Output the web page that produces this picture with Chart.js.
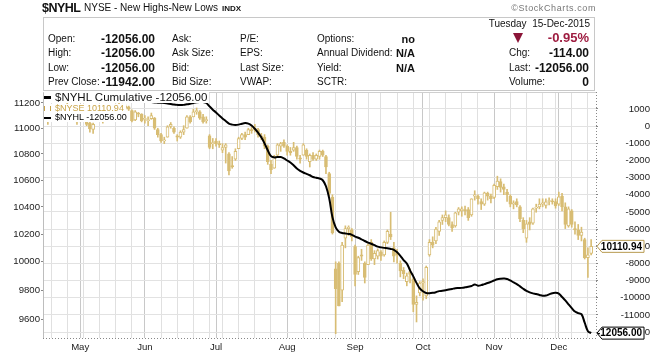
<!DOCTYPE html>
<html><head><meta charset="utf-8">
<script src="https://cdn.jsdelivr.net/npm/chart.js@4/dist/chart.umd.min.js"></script>
<style>
html,body{margin:0;padding:0;background:#fff;}
#wrap{position:relative;width:650px;height:354px;overflow:hidden;font-family:"Liberation Sans",Arial,sans-serif;color:#111;}
canvas{position:absolute;left:0;top:0;}
.t{position:absolute;white-space:nowrap;line-height:12px;}
.b{font-weight:bold;}
.l10{font-size:10px;}
.v12{font-size:12px;font-weight:bold;}
.ic{display:inline-block;vertical-align:middle;}
</style></head><body>
<div id="wrap">
<canvas id="c" width="650" height="354"></canvas>

<div class="t b" style="left:42px;top:1px;font-size:12.5px;line-height:14px;letter-spacing:-0.5px">$NYHL</div>
<div class="t" style="left:84px;top:2px;font-size:10px">NYSE - New Highs-New Lows</div>
<div class="t b" style="left:222px;top:3px;font-size:8px">INDX</div>
<div class="t" style="right:54px;top:2px;font-size:9px;color:#777;letter-spacing:0.6px">©StockCharts.com</div>
<div style="position:absolute;left:43px;top:17px;width:550px;height:72px;border:1px solid #c8c8c8;"></div>

<div class="t l10" style="left:48px;top:33px">Open:</div>
<div class="t l10" style="left:48px;top:47px">High:</div>
<div class="t l10" style="left:48px;top:62px">Low:</div>
<div class="t l10" style="left:48px;top:76px">Prev Close:</div>
<div class="t v12" style="right:495px;top:33px">-12056.00</div>
<div class="t v12" style="right:495px;top:47px">-12056.00</div>
<div class="t v12" style="right:495px;top:62px">-12056.00</div>
<div class="t v12" style="right:495px;top:76px">-11942.00</div>

<div class="t l10" style="left:172px;top:33px">Ask:</div>
<div class="t l10" style="left:172px;top:47px">Ask Size:</div>
<div class="t l10" style="left:172px;top:62px">Bid:</div>
<div class="t l10" style="left:172px;top:76px">Bid Size:</div>

<div class="t l10" style="left:240px;top:33px">P/E:</div>
<div class="t l10" style="left:240px;top:47px">EPS:</div>
<div class="t l10" style="left:240px;top:62px">Last Size:</div>
<div class="t l10" style="left:240px;top:76px">VWAP:</div>

<div class="t l10" style="left:317px;top:33px">Options:</div>
<div class="t l10" style="left:317px;top:47px">Annual Dividend:</div>
<div class="t l10" style="left:317px;top:62px">Yield:</div>
<div class="t l10" style="left:317px;top:76px">SCTR:</div>
<div class="t b" style="right:235px;top:33px;font-size:11px">no</div>
<div class="t b" style="right:235px;top:47px;font-size:11px">N/A</div>
<div class="t b" style="right:235px;top:62px;font-size:11px">N/A</div>

<div class="t l10" style="right:60px;top:18px">Tuesday&nbsp;&nbsp;15-Dec-2015</div>
<div style="position:absolute;left:513px;top:33px;width:0;height:0;border-left:5px solid transparent;border-right:5px solid transparent;border-top:10px solid #8b1538;"></div>
<div class="t b" style="right:61px;top:31px;font-size:13px;line-height:14px;color:#9e1c40">-0.95%</div>
<div class="t l10" style="left:509px;top:47px">Chg:</div>
<div class="t v12" style="right:61px;top:47px">-114.00</div>
<div class="t l10" style="left:509px;top:62px">Last:</div>
<div class="t v12" style="right:61px;top:62px">-12056.00</div>
<div class="t l10" style="left:509px;top:76px">Volume:</div>
<div class="t v12" style="right:61px;top:76px">0</div>

<div class="t" style="left:44px;top:91px;font-size:11.5px;line-height:12px;background:#fff;padding-right:2px"><span class="ic" style="width:7px;height:3px;background:#000;margin-right:4px"></span>$NYHL Cumulative -12056.00</div>
<div class="t" style="left:44px;top:104px;font-size:9px;line-height:9px;color:#c9a448;background:#fff;padding-right:2px"><span class="ic" style="width:5px;height:5px;border-left:1px solid #c9a448;border-right:1px solid #c9a448;margin-right:4px"></span>$NYSE 10110.94</div>
<div class="t" style="left:44px;top:113px;font-size:9px;line-height:9px;color:#000;background:#fff;padding-right:2px"><span class="ic" style="width:7px;height:2px;background:#000;margin-right:4px"></span>$NYHL -12056.00</div>
</div>
<script>
// ---- categories ----
const startDate = '2015-04-16';
const endDate = '2015-12-15';
const holidays = ['2015-05-25','2015-07-03','2015-09-07','2015-11-26'];
const monthTicks = ['May','Jun','Jul','Aug','Sep','Oct','Nov','Dec'];
const leftTicks = [9600,9800,10000,10200,10400,10600,10800,11000,11200];
const rightTicks = [1000,0,-1000,-2000,-3000,-4000,-5000,-6000,-7000,-8000,-9000,-10000,-11000,-12000];

// ---- $NYSE daily OHLC ----
const nyseOpen = [11140,11100,11090,11130,11110,11140,11165,11170,11110,11130,11090,11060,11130,11130,11040,10990,11060,11140,11090,11085,
11100,11160,11150,11180,11170,11160,11170,11140,11065,11120,11110,11070,11060,11075,11080,10990,10950,10900,10930,11015,
11000,10940,10930,10970,11000,11090,11090,11130,11130,11090,11060,10940,10880,10900,10880,10830,10850,10800,10710,10760,
10840,10920,10950,10950,10990,10990,10990,10940,10930,10860,10720,10690,10790,10860,10890,10860,10820,10830,10850,10770,
10790,10830,10740,10790,10760,10780,10820,10780,10650,10470,9950,9990,9800,10170,10240,10230,10110,9930,10050,9990,
9980,10140,10020,10040,10070,10050,10140,10200,10100,10060,9990,9940,9860,9930,9880,9700,9780,9850,9760,10050,
10140,10150,10220,10300,10320,10320,10270,10260,10360,10370,10380,10380,10340,10480,10480,10440,10420,10500,10480,10470,
10550,10590,10550,10510,10480,10420,10440,10400,10300,10170,10290,10280,10390,10400,10420,10410,10440,10440,10440,10420,
10480,10400,10260,10370,10240,10230,10190,10160,10030,10060];
const nyseHigh = [11170,11110,11130,11160,11150,11180,11190,11200,11150,11145,11100,11140,11160,11135,11080,11040,11150,11150,11110,11120,
11170,11180,11190,11200,11190,11185,11175,11145,11140,11125,11115,11100,11090,11120,11085,11000,10960,10930,11020,11045,
11010,10950,10980,11020,11100,11100,11150,11160,11140,11110,11090,10950,10920,10920,10900,10880,10880,10810,10780,10840,
10930,10960,10970,11000,11010,11030,11000,10960,10950,10870,10750,10790,10880,10890,10910,10870,10850,10890,10860,10790,
10880,10840,10800,10810,10800,10830,10830,10790,10660,10490,10000,10000,10140,10260,10260,10240,10120,10040,10090,10000,
10130,10160,10080,10093,10080,10150,10230,10360,10140,10090,10007,9960,9920,9950,9890,9760,9860,9880,9970,10160,
10180,10250,10300,10340,10370,10340,10290,10360,10395,10400,10405,10395,10460,10520,10490,10460,10510,10510,10495,10570,
10630,10610,10570,10530,10490,10445,10460,10410,10320,10300,10320,10390,10420,10460,10460,10460,10467,10460,10460,10510,
10500,10430,10400,10380,10290,10270,10250,10170,10100,10160];
const nyseLow = [11110,11030,11070,11100,11090,11120,11140,11110,11080,11060,11030,11050,11110,11020,10970,10960,11060,11090,11040,11070,
11100,11140,11140,11160,11150,11150,11140,11050,11060,11090,11050,11040,11020,11070,10990,10930,10890,10880,10930,11000,
10960,10900,10920,10950,11000,11040,11090,11110,11070,11040,11040,10840,10840,10860,10850,10810,10730,10640,10690,10750,
10840,10910,10910,10950,10960,10970,10930,10910,10840,10720,10650,10690,10780,10820,10850,10790,10790,10820,10760,10730,
10790,10760,10700,10750,10750,10760,10780,10650,10480,10200,9500,9690,9720,10100,10190,10150,9830,9910,10010,9850,
9980,10010,9980,10020,10010,10040,10130,10160,10000,9990,9893,9880,9830,9850,9650,9580,9760,9730,9740,10040,
10100,10130,10190,10270,10290,10260,10220,10250,10340,10330,10340,10300,10330,10450,10420,10380,10410,10450,10430,10460,
10530,10510,10490,10440,10400,10385,10400,10290,10210,10140,10230,10270,10360,10385,10400,10390,10415,10420,10390,10410,
10370,10240,10250,10250,10200,10160,10150,10020,9890,10050];
const nyseClose = [11150,11060,11120,11110,11140,11160,11150,11120,11140,11100,11050,11130,11140,11030,10995,11030,11140,11100,11080,11080,
11160,11165,11180,11170,11165,11175,11150,11060,11130,11110,11060,11070,11060,11100,11000,10950,10900,10910,11010,11030,
10970,10930,10970,10990,11090,11050,11130,11140,11080,11050,11060,10850,10880,10880,10870,10850,10870,10670,10700,10820,
10920,10950,10930,10990,10980,11000,10950,10930,10860,10740,10680,10780,10870,10880,10860,10820,10810,10850,10780,10760,
10870,10780,10790,10760,10790,10820,10790,10700,10500,10210,9810,9690,10120,10240,10250,10180,9910,10030,10040,9890,
10120,10020,10060,10080,10040,10140,10220,10180,10040,10050,9936,9915,9900,9910,9700,9715,9850,9860,9960,10140,
10120,10237,10290,10320,10340,10270,10245,10355,10385,10385,10370,10320,10459,10490,10460,10420,10504,10480,10460,10560,
10593,10545,10530,10490,10420,10430,10415,10310,10240,10275,10270,10385,10390,10420,10430,10437,10444,10437,10407,10475,
10400,10270,10385,10270,10230,10190,10215,10030,10050,10110.94];

// ---- $NYHL Cumulative ----
const nyhlCumulative = [1580,1560,1570,1590,1600,1610,1600,1590,1580,1570,1540,1530,1520,1500,1480,1490,1500,1510,1500,1490,
1500,1520,1540,1550,1560,1560,1540,1500,1490,1480,1470,1450,1430,1400,1380,1370,1360,1350,1320,1290,
1260,1240,1230,1240,1270,1300,1350,1390,1410,1400,1350,1150,960,800,620,450,300,150,90,70,
90,140,180,150,40,-150,-380,-650,-1000,-1400,-1750,-1820,-1800,-1800,-1880,-2000,-2120,-2280,-2470,-2600,
-2700,-2780,-2860,-2960,-3010,-3050,-3150,-3500,-4200,-5300,-5900,-6150,-6220,-6250,-6280,-6330,-6430,-6500,-6590,-6690,
-6780,-6850,-6930,-7020,-7060,-7090,-7110,-7150,-7200,-7350,-7550,-7800,-8000,-8400,-8750,-9130,-9450,-9620,-9720,-9730,
-9710,-9670,-9610,-9590,-9560,-9520,-9480,-9440,-9430,-9420,-9390,-9350,-9310,-9220,-9290,-9260,-9200,-9140,-9070,-8990,
-8920,-8890,-8880,-8900,-8990,-9100,-9200,-9330,-9470,-9590,-9680,-9740,-9780,-9830,-9880,-9870,-9800,-9730,-9710,-9760,
-9950,-10150,-10380,-10600,-10800,-10890,-10950,-11450,-11942,-12056];

// ---- build categories ----
const dates = [];
(function(){
  const hol = new Set(holidays);
  let d = new Date(startDate + 'T00:00:00Z');
  const end = new Date(endDate + 'T00:00:00Z');
  while (d <= end) {
    const wd = d.getUTCDay();
    const iso = d.toISOString().slice(0,10);
    if (wd !== 0 && wd !== 6 && !hol.has(iso)) dates.push(new Date(d));
    d = new Date(d.getTime() + 86400000);
  }
})();
const labels = dates.map(d => d.toISOString().slice(0,10));
labels.push(''); // empty slot at the right edge
const tickText = [], gridKind = [];
let mi = 0;
for (let i = 0; i < labels.length; i++) {
  if (i === 0 || i >= dates.length) { tickText.push(''); gridKind.push(0); continue; }
  const a = dates[i-1], b = dates[i];
  if (b.getUTCMonth() !== a.getUTCMonth()) { tickText.push(monthTicks[mi++] || ''); gridKind.push(2); }
  else if ((b - a) > 86400000 * 1.5 && b.getUTCDay() < 3) { tickText.push(''); gridKind.push(1); }
  else { tickText.push(''); gridKind.push(0); }
}

const gold = '#d8bd74';
const wicks = nyseHigh.map((h,i) => [nyseLow[i], h]);
const bodies = nyseOpen.map((o,i) => [Math.min(o, nyseClose[i]), Math.max(o, nyseClose[i])]);
const bodyFill = nyseOpen.map((o,i) => nyseClose[i] >= o ? '#ffffff' : gold);

const FONT = 'Liberation Sans';
Chart.defaults.font.family = FONT;

function tag(ctx, y, text, border){
  const x0 = 597, x1 = 602, x2 = 644, h = 12;
  ctx.save();
  ctx.beginPath();
  ctx.moveTo(x0, y); ctx.lineTo(x1, y - h/2); ctx.lineTo(x2, y - h/2);
  ctx.lineTo(x2, y + h/2); ctx.lineTo(x1, y + h/2); ctx.closePath();
  ctx.fillStyle = '#fff'; ctx.fill();
  ctx.strokeStyle = border; ctx.lineWidth = 1; ctx.stroke();
  ctx.fillStyle = '#000'; ctx.font = 'bold 10px "' + FONT + '"';
  ctx.textAlign = 'right'; ctx.textBaseline = 'middle';
  ctx.fillText(text, 642, y + 0.5);
  ctx.restore();
}

const deco = {
  id: 'deco',
  afterDraw(chart) {
    const {ctx, chartArea: a} = chart;
    ctx.save();
    ctx.lineWidth = 1;
    ctx.strokeStyle = '#bdbdbd';
    ctx.beginPath(); ctx.moveTo(a.left + 0.5, a.top); ctx.lineTo(a.left + 0.5, a.bottom); ctx.stroke();
    ctx.strokeStyle = '#cfcfcf';
    ctx.beginPath(); ctx.moveTo(a.left, a.top + 0.5); ctx.lineTo(a.right, a.top + 0.5); ctx.stroke();
    ctx.setLineDash([1, 2]);
    ctx.strokeStyle = '#888';
    ctx.beginPath(); ctx.moveTo(a.left, a.bottom + 0.5); ctx.lineTo(a.right, a.bottom + 0.5); ctx.stroke();
    ctx.beginPath(); ctx.moveTo(a.right + 0.5, a.top); ctx.lineTo(a.right + 0.5, a.bottom); ctx.stroke();
    ctx.restore();
    const yP = chart.scales.y.getPixelForValue(nyseClose[nyseClose.length - 1]);
    const yL = chart.scales.y1.getPixelForValue(nyhlCumulative[nyhlCumulative.length - 1]);
    tag(ctx, yP, nyseClose[nyseClose.length - 1].toFixed(2), '#b89a50');
    tag(ctx, yL, nyhlCumulative[nyhlCumulative.length - 1].toFixed(2), '#000');
  }
};

new Chart(document.getElementById('c'), {
  type: 'bar',
  data: {
    labels: labels,
    datasets: [
      { type: 'line', label: '$NYHL Cumulative', data: nyhlCumulative, yAxisID: 'y1',
        borderColor: '#000', borderWidth: 2, pointRadius: 0, tension: 0.4, order: 0, fill: false },
      { type: 'bar', label: '$NYSE body', data: bodies, yAxisID: 'y', backgroundColor: bodyFill,
        borderColor: gold, borderWidth: 1, borderSkipped: false, barThickness: 3, minBarLength: 1,
        grouped: false, order: 1 },
      { type: 'bar', label: '$NYSE range', data: wicks, yAxisID: 'y', backgroundColor: gold,
        borderWidth: 0, barThickness: 1, grouped: false, order: 2 }
    ]
  },
  options: {
    responsive: false,
    devicePixelRatio: 1,
    animation: false,
    layout: { padding: { top: 92, left: 0, right: 0, bottom: 0 } },
    plugins: { legend: { display: false }, tooltip: { enabled: false } },
    scales: {
      x: {
        type: 'category', offset: true,
        grid: { offset: false, drawTicks: false,
          color: c => gridKind[c.index] === 2 ? '#c8c8c8' : (gridKind[c.index] === 1 ? '#e0e0e0' : 'rgba(0,0,0,0)') },
        border: { display: false },
        ticks: { autoSkip: false, maxRotation: 0, minRotation: 0, padding: 4, color: '#222',
          font: { size: 9.6 }, callback: (v, i) => tickText[i] },
        afterFit: s => { s.height = 16; }
      },
      y: {
        type: 'logarithmic', position: 'left', min: 9471, max: 11288,
        afterBuildTicks: s => { s.ticks = leftTicks.map(v => ({ value: v })); },
        grid: { drawOnChartArea: false, tickLength: 2, tickColor: '#888' },
        border: { display: false },
        ticks: { padding: 1, color: '#222', font: { size: 9.6 }, callback: v => String(v) },
        afterFit: s => { s.width = 43; }
      },
      y1: {
        type: 'linear', position: 'right', min: -12340, max: 1990,
        afterBuildTicks: s => { s.ticks = rightTicks.map(v => ({ value: v })); },
        grid: { color: '#e2e2e2', tickLength: 2, tickColor: '#888' },
        border: { display: false },
        ticks: { crossAlign: 'far', padding: 1, color: '#222',
          font: { size: 9.6 }, callback: v => String(v) },
        afterFit: s => { s.width = 54; }
      }
    }
  },
  plugins: [deco]
});
</script>
</body></html>
